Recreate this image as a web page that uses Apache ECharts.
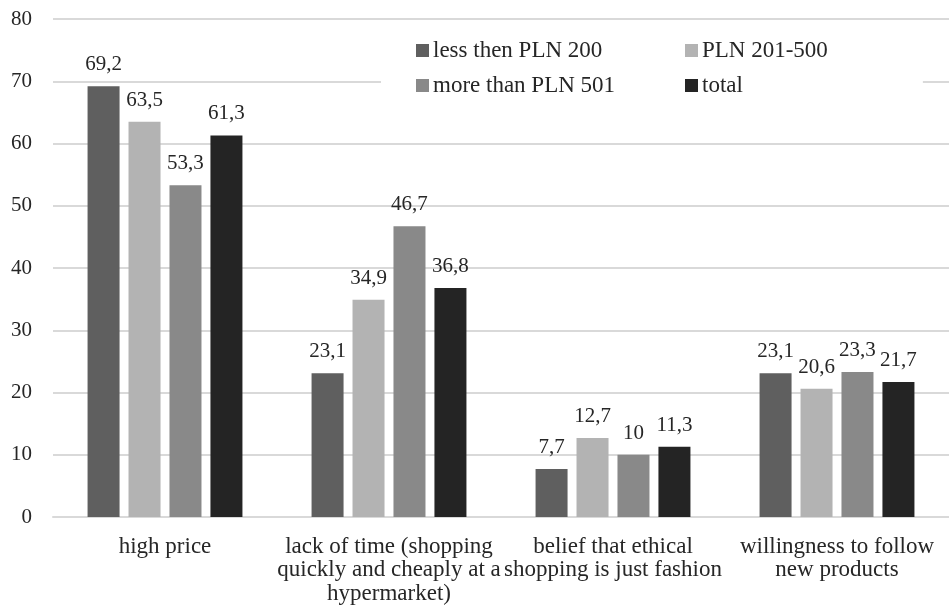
<!DOCTYPE html>
<html>
<head>
<meta charset="utf-8">
<script src="https://cdn.jsdelivr.net/npm/echarts@6/dist/echarts.min.js"></script>
<style>html,body{margin:0;padding:0;background:#fff;}#c{width:949px;height:612px;}</style>
</head>
<body>
<div id="c"></div>
<script>
const categories = ['high price', 'lack of time (shopping\nquickly and cheaply at a\nhypermarket)', 'belief that ethical\nshopping is just fashion', 'willingness to follow\nnew products'];
const seriesNames = ['less then PLN 200', 'PLN 201-500', 'more than PLN 501', 'total'];
const lessThen200 = [69.2, 23.1, 7.7, 23.1];
const pln201to500 = [63.5, 34.9, 12.7, 20.6];
const moreThan501 = [53.3, 46.7, 10, 23.3];
const total = [61.3, 36.8, 11.3, 21.7];
const yTicks = {min: 0, max: 80, interval: 10};

const colors = ['#5f5f5f', '#b3b3b3', '#898989', '#242424'];
const values = [lessThen200, pln201to500, moreThan501, total];
const FONT = '"Liberation Serif", "Times New Roman", serif';

const chart = echarts.init(document.getElementById('c'), null, {renderer: 'canvas'});
chart.setOption({
  animation: false,
  backgroundColor: '#fff',
  textStyle: {fontFamily: FONT},
  grid: {left: 53, right: -4, top: 19, bottom: 95, containLabel: false},
  legend: [
    {
      data: [seriesNames[0], seriesNames[2]],
      orient: 'vertical',
      left: 381, top: 33,
      padding: [6, 50, 6, 35],
      backgroundColor: '#fff',
      itemWidth: 13, itemHeight: 13, itemGap: 12,
      icon: 'rect',
      textStyle: {fontFamily: FONT, fontSize: 23, lineHeight: 22, color: '#262626', padding: [0, 0, 0, -1]}
    },
    {
      data: [seriesNames[1], seriesNames[3]],
      orient: 'vertical',
      left: 645, top: 33,
      padding: [6, 95, 6, 40],
      backgroundColor: '#fff',
      itemWidth: 13, itemHeight: 13, itemGap: 12,
      icon: 'rect',
      textStyle: {fontFamily: FONT, fontSize: 23, lineHeight: 22, color: '#262626', padding: [0, 0, 0, -1]}
    }
  ],
  xAxis: {
    type: 'category',
    data: categories,
    axisLine: {show: true, lineStyle: {color: '#d9d9d9', width: 2}},
    axisTick: {show: false},
    axisLabel: {fontFamily: FONT, fontSize: 23, lineHeight: 23.5, color: '#262626', margin: 18, interval: 0}
  },
  yAxis: {
    type: 'value',
    min: yTicks.min, max: yTicks.max, interval: yTicks.interval,
    axisLine: {show: false},
    axisTick: {show: false},
    splitLine: {lineStyle: {color: '#d9d9d9', width: 2}},
    axisLabel: {fontFamily: FONT, fontSize: 21, color: '#262626', margin: 21}
  },
  series: seriesNames.map((name, i) => ({
    name: name,
    type: 'bar',
    data: values[i],
    barWidth: 32,
    barGap: '28%',
    itemStyle: {color: colors[i]},
    label: {
      show: true, position: 'top', distance: 11,
      fontFamily: FONT, fontSize: 21, color: '#262626',
      formatter: p => String(p.value).replace('.', ',')
    }
  }))
});
</script>
</body>
</html>
